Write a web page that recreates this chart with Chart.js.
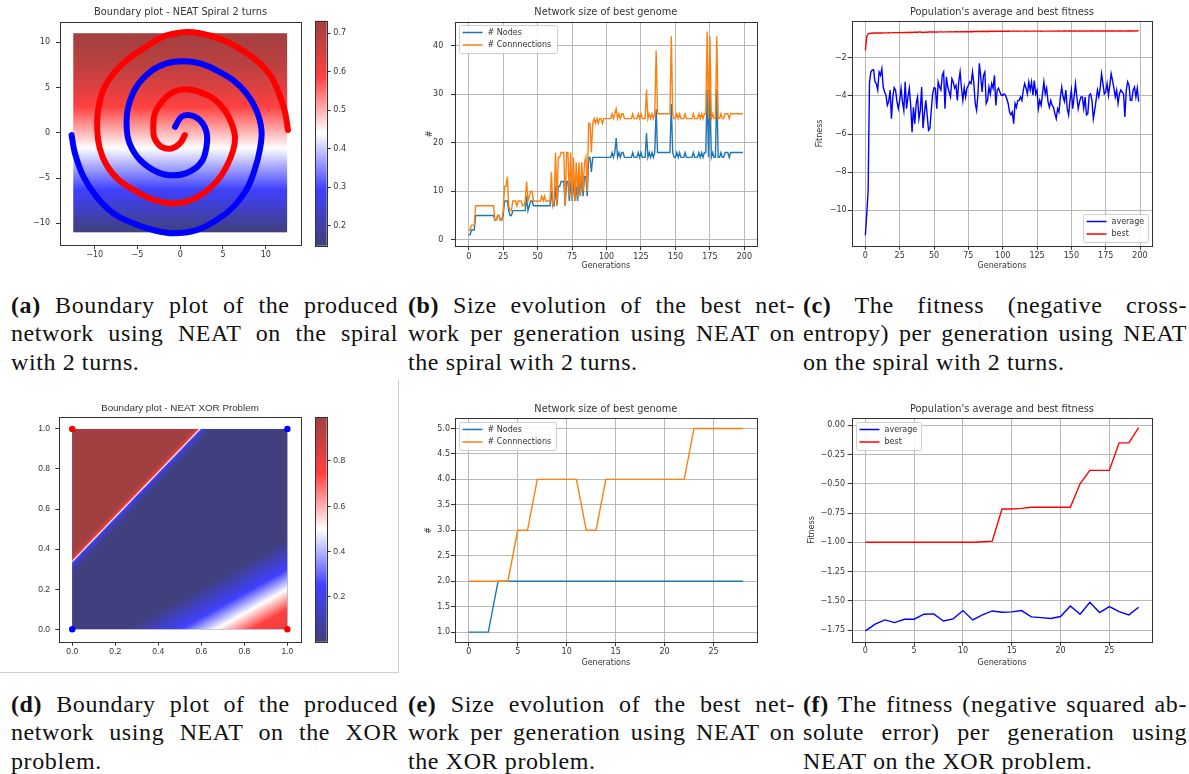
<!DOCTYPE html>
<html>
<head>
<meta charset="utf-8">
<script src="https://cdn.jsdelivr.net/npm/chart.js@4.4.1/dist/chart.umd.min.js"></script>
<style>
  body { margin: 0; background: #fff; width: 1189px; height: 774px; position: relative; overflow: hidden; }
  canvas { position: absolute; }
  .cap { position: absolute; font-family: "Liberation Serif", serif; font-size: 24px; letter-spacing: 0.6px; line-height: 28.5px; color: #111; white-space: nowrap; }
  .cap .j { text-align: justify; text-align-last: justify; }
  .edge { position: absolute; left: 0; top: 380px; width: 398px; height: 292px; border-right: 1px solid #cfcfcf; border-bottom: 1px solid #cfcfcf; }
</style>
</head>
<body>
<div class="edge"></div>
<canvas id="cA"></canvas><canvas id="cAbar"></canvas>
<canvas id="cB"></canvas><canvas id="cC"></canvas>
<canvas id="cD"></canvas><canvas id="cDbar"></canvas>
<canvas id="cE"></canvas><canvas id="cF"></canvas>

<div class="cap" style="left:11px;top:290.5px;width:387px">
  <div class="j"><b>(a)</b> Boundary plot of the produced</div>
  <div class="j">network using NEAT on the spiral</div>
  <div>with 2 turns.</div>
</div>
<div class="cap" style="left:408px;top:290.5px;width:387px">
  <div class="j"><b>(b)</b> Size evolution of the best net-</div>
  <div class="j">work per generation using NEAT on</div>
  <div>the spiral with 2 turns.</div>
</div>
<div class="cap" style="left:803px;top:290.5px;width:384px">
  <div class="j"><b>(c)</b> The fitness (negative cross-</div>
  <div class="j">entropy) per generation using NEAT</div>
  <div>on the spiral with 2 turns.</div>
</div>
<div class="cap" style="left:11px;top:689.5px;width:387px">
  <div class="j"><b>(d)</b> Boundary plot of the produced</div>
  <div class="j">network using NEAT on the XOR</div>
  <div>problem.</div>
</div>
<div class="cap" style="left:408px;top:689.5px;width:387px">
  <div class="j"><b>(e)</b> Size evolution of the best net-</div>
  <div class="j">work per generation using NEAT on</div>
  <div>the XOR problem.</div>
</div>
<div class="cap" style="left:803px;top:689.5px;width:384px">
  <div class="j"><b>(f)</b> The fitness (negative squared ab-</div>
  <div class="j">solute error) per generation using</div>
  <div>NEAT on the XOR problem.</div>
</div>

<script>
/* ---- data: spiral boundary plot (a) ---- */
const spiralRedX = [0.54, -0.04, -1.0, -2.2, -3.0, -3.15, -2.96, -2.0, -0.8, 0.74, 2.3, 3.85, 5.2, 6.0, 6.4, 6.2, 5.4, 4.24, 2.7, 0.74, -1.2, -3.15, -5.1, -7.2, -8.6, -9.4, -9.7, -9.6, -9.0, -7.8, -6.26, -4.3, -2.0, 0.35, 2.3, 4.6, 6.96, 8.9, 10.5, 11.4, 12.2, 12.6];
const spiralRedY = [-0.26, -1.18, -1.73, -1.55, -0.6, 0.48, 2.14, 3.6, 4.5, 4.8, 4.5, 3.8, 2.5, 1.03, -0.44, -1.9, -3.76, -5.4, -6.7, -7.6, -7.8, -7.4, -6.5, -5.2, -3.57, -1.73, 0.3, 2.5, 4.7, 6.56, 8.0, 9.3, 10.6, 11.1, 11.0, 10.4, 9.3, 8.0, 6.4, 4.7, 2.5, 0.3];
const spiralBlueX = [-0.6, 0.15, 1.1, 2.3, 3.07, 3.07, 2.5, 1.1, -0.8, -2.76, -4.7, -5.9, -6.26, -6.07, -5.1, -3.5, -1.6, 0.35, 2.3, 4.24, 6.2, 7.74, 8.9, 9.5, 9.3, 8.7, 7.74, 6.2, 4.24, 1.9, -0.8, -3.15, -5.5, -7.8, -9.77, -11.3, -12.3, -12.7];
const spiralBlueY = [0.66, 1.77, 1.95, 1.4, 0.1, -1.55, -3.2, -4.3, -4.7, -4.3, -3.0, -1.2, 0.66, 2.87, 5.1, 6.74, 7.66, 7.9, 7.66, 6.9, 5.8, 4.35, 2.5, 0.3, -1.9, -4.1, -6.3, -8.2, -9.65, -10.75, -11.1, -10.75, -10.0, -8.9, -7.07, -4.86, -2.28, -0.26];
const spiralGridX = [-12.5, 12.5];
const spiralGradY = [-11, -8.5, -6.3, -4, -1.7, 0.6, 2.9, 5, 7.5, 11];
const spiralGradP = [0.15, 0.23, 0.294, 0.365, 0.44, 0.515, 0.587, 0.64, 0.69, 0.73];
const cbA = [0.148, 0.733];
const cbATicks = [0.2, 0.3, 0.4, 0.5, 0.6, 0.7];

/* ---- data: XOR boundary plot (d) ---- */
const xorRedX = [0, 1], xorRedY = [1, 0];
const xorBlueX = [0, 1], xorBlueY = [0, 1];
const xorBaseP = 0.01;
const xorUpperSlope = 1.114;
const xorUpperU = [0.27, 0.315, 0.33, 0.338, 0.346, 0.355, 0.38];
const xorUpperP = [0.01, 0.12, 0.249, 0.497, 0.745, 0.9, 0.99];
const xorLowerSlope = 0.6;
const xorLowerU = [-0.15, -0.3, -0.4, -0.5, -0.62];
const xorLowerP = [0.01, 0.249, 0.497, 0.745, 0.82];
const cbD = [0.001, 0.993];
const cbDTicks = [0.2, 0.4, 0.6, 0.8];
const unitTicks = [0, 0.2, 0.4, 0.6, 0.8, 1.0];

/* ---- data: spiral NEAT run, 200 generations (b, c) ---- */
const spiralGens = Array.from({ length: 200 }, (_, i) => i);
const spiralNodes = [
  1,1,2,2,2,5,5,5,5,5,  5,5,5,5,5,5,5,5,5,4,  4,5,5,4,4,5,8,8,8,6,  5,5,6,6,6,6,6,6,6,6,
  6,6,9,6,7,8,8,7,7,7,  7,7,7,7,7,7,7,7,7,7,  10,7,7,11,7,11,11,12,12,12,  7,12,12,8,12,8,12,8,11,8,
  12,9,13,9,13,13,9,17,17,14,  17,17,17,17,17,17,17,17,17,17,  17,17,17,17,18,17,18,21,17,18,  17,18,18,17,17,17,17,17,17,18,
  17,17,17,18,17,18,17,17,17,22,  17,18,17,18,17,18,27,18,18,18,  18,18,18,18,18,18,18,28,18,17,  17,18,17,18,17,17,17,18,17,17,
  17,17,17,18,17,17,17,18,17,18,  17,18,18,31,17,31,17,18,17,17,  31,17,17,18,17,17,18,18,18,17,  18,18,18,18,18,18,18,18,18,18
];
const spiralConns = [
  2,2,3,3,3,7,7,7,7,7,  7,7,7,7,7,7,7,7,7,4,  4,5,5,4,4,6,11,11,13,7,  6,6,8,8,8,7,8,8,8,7,
  7,8,12,8,9,10,10,8,8,8,  8,8,8,9,8,9,8,8,8,8,  14,7,8,18,7,17,17,18,18,18,  7,18,18,9,18,8,17,8,16,9,
  16,9,16,10,16,17,10,24,24,18,  24,25,24,25,24,25,25,24,25,25,  25,25,25,25,26,25,26,27,25,26,  25,26,26,25,25,25,25,25,25,26,
  25,25,25,26,25,26,25,25,25,31,  25,26,25,26,25,26,39,26,26,26,  26,26,26,26,26,26,26,42,26,25,  25,26,25,26,25,25,25,26,25,25,
  25,25,25,26,25,25,25,26,25,26,  25,26,26,43,25,42,25,26,25,25,  42,25,25,26,25,25,26,26,26,25,  26,26,26,26,26,26,26,26,26,26
];
const spiralAvgFit = [
  -11.3,-10.2,-9.0,-3.3,-2.75,-2.65,-2.63,-3.27,-3.36,-3.7,  -2.75,-2.93,-2.58,-3.54,-3.8,-3.97,-4.5,-4.3,-3.7,-5.2,
  -4.06,-3.57,-3.7,-4.3,-4.67,-4.24,-3.6,-4.3,-4.76,-3.27,  -4.67,-4.06,-3.6,-4.5,-5.9,-4.6,-5.46,-4.4,-4.06,-5.2,
  -4.76,-3.54,-5.7,-4.93,-4.24,-5.0,-5.8,-5.7,-4.76,-3.9,  -3.57,-3.6,-4.67,-3.27,-3.54,-3.7,-2.93,-2.75,-4.67,-3.0,
  -3.54,-3.8,-4.06,-3.1,-3.27,-3.6,-3.45,-4.24,-3.27,-2.75,  -3.6,-4.24,-3.57,-4.06,-3.6,-3.45,-3.27,-3.36,-2.75,-3.36,
  -4.4,-4.76,-3.9,-2.3,-3.0,-3.8,-2.93,-2.75,-4.4,-4.24,  -3.54,-3.9,-3.36,-3.6,-2.93,-4.5,-3.7,-3.6,-3.8,-3.97,
  -3.97,-3.9,-3.97,-4.15,-4.4,-4.85,-5.0,-4.85,-5.46,-4.4,  -4.6,-4.24,-4.24,-4.06,-4.24,-3.7,-3.36,-3.6,-3.9,-3.27,
  -3.7,-3.27,-3.97,-3.2,-3.9,-3.7,-4.67,-4.24,-4.5,-3.9,  -3.27,-3.9,-3.6,-4.3,-4.6,-4.24,-4.5,-4.6,-4.93,-5.2,
  -4.67,-4.85,-4.06,-3.54,-4.06,-4.3,-3.7,-4.67,-5.0,-4.24,  -3.7,-4.67,-4.06,-3.36,-4.06,-4.67,-4.3,-4.06,-4.06,-4.67,
  -4.06,-5.0,-4.93,-3.97,-3.9,-4.24,-5.2,-4.76,-4.24,-3.7,  -4.06,-3.6,-2.84,-3.36,-3.9,-3.8,-3.36,-3.97,-3.45,-2.84,
  -3.2,-3.6,-4.06,-3.7,-4.4,-3.9,-3.7,-3.8,-3.9,-5.1,  -3.7,-3.27,-3.45,-4.24,-4.24,-3.7,-3.54,-4.06,-3.6,-4.3
];
const spiralBestFit = [
  -1.62,-0.92,-0.75,-0.73,-0.72,-0.72,-0.71,-0.71,-0.71,-0.71,  -0.71,-0.70,-0.71,-0.70,-0.70,-0.70,-0.70,-0.69,-0.70,-0.70,
  -0.69,-0.69,-0.69,-0.69,-0.69,-0.69,-0.68,-0.69,-0.68,-0.68,  -0.68,-0.68,-0.68,-0.67,-0.68,-0.67,-0.67,-0.67,-0.67,-0.66,
  -0.66,-0.67,-0.68,-0.67,-0.67,-0.67,-0.66,-0.66,-0.66,-0.66,  -0.66,-0.66,-0.65,-0.66,-0.65,-0.65,-0.65,-0.66,-0.65,-0.65,
  -0.65,-0.65,-0.64,-0.65,-0.65,-0.64,-0.64,-0.64,-0.65,-0.64,  -0.64,-0.64,-0.64,-0.64,-0.63,-0.64,-0.64,-0.63,-0.64,-0.63,
  -0.63,-0.63,-0.63,-0.63,-0.63,-0.63,-0.62,-0.63,-0.63,-0.62,  -0.63,-0.62,-0.62,-0.62,-0.63,-0.62,-0.62,-0.62,-0.62,-0.62,
  -0.62,-0.62,-0.62,-0.61,-0.62,-0.62,-0.61,-0.61,-0.62,-0.61,  -0.61,-0.62,-0.61,-0.61,-0.61,-0.61,-0.61,-0.62,-0.61,-0.61,
  -0.61,-0.61,-0.61,-0.61,-0.61,-0.61,-0.61,-0.61,-0.62,-0.61,  -0.61,-0.61,-0.61,-0.61,-0.61,-0.61,-0.61,-0.60,-0.61,-0.61,
  -0.60,-0.60,-0.61,-0.61,-0.60,-0.60,-0.60,-0.61,-0.60,-0.60,  -0.60,-0.61,-0.60,-0.60,-0.61,-0.60,-0.60,-0.60,-0.60,-0.61,
  -0.60,-0.60,-0.61,-0.60,-0.60,-0.60,-0.60,-0.60,-0.61,-0.60,  -0.60,-0.60,-0.60,-0.60,-0.60,-0.61,-0.60,-0.60,-0.60,-0.60,
  -0.60,-0.60,-0.61,-0.60,-0.60,-0.60,-0.60,-0.60,-0.60,-0.61,  -0.60,-0.60,-0.60,-0.59,-0.60,-0.60,-0.60,-0.60,-0.59,-0.59
];
const genTicks200 = [0, 25, 50, 75, 100, 125, 150, 175, 200];
const sizeTicks200 = [0, 10, 20, 30, 40];
const fitTicks200 = [-10, -8, -6, -4, -2];

/* ---- data: XOR NEAT run, 29 generations (e, f) ---- */
const xorGens = Array.from({ length: 29 }, (_, i) => i);
const xorNodes = [1,1,1,2,2,2,2,2,2,2,2,2,2,2,2,2,2,2,2,2,2,2,2,2,2,2,2,2,2];
const xorConns = [2,2,2,2,2,3,3,4,4,4,4,4,3,3,4,4,4,4,4,4,4,4,4,5,5,5,5,5,5];
const xorAvgFit = [-1.758,-1.70,-1.664,-1.687,-1.658,-1.658,-1.615,-1.612,-1.673,-1.655,-1.584,-1.664,-1.621,-1.587,-1.598,-1.595,-1.584,-1.638,-1.644,-1.652,-1.635,-1.544,-1.615,-1.513,-1.601,-1.55,-1.593,-1.621,-1.556];
const xorBestFit = [-1.0,-1.0,-1.0,-1.0,-1.0,-1.0,-1.0,-1.0,-1.0,-1.0,-1.0,-1.0,-0.995,-0.99,-0.715,-0.715,-0.71,-0.70,-0.70,-0.70,-0.70,-0.70,-0.50,-0.385,-0.385,-0.385,-0.15,-0.15,-0.02];
const genTicks29 = [0, 5, 10, 15, 20, 25];
const sizeTicks29 = [1.0, 1.5, 2.0, 2.5, 3.0, 3.5, 4.0, 4.5, 5.0];
const fitTicks29 = [0, -0.25, -0.5, -0.75, -1.0, -1.25, -1.5, -1.75];

/* ---- style ---- */
const INK = '#333';
const SANS = '"DejaVu Sans", sans-serif';
const ARIAL = '"Liberation Sans", Arial, sans-serif';
const TICK_FS = 8, TITLE_FS = 9.8;

/* seismic colormap (matplotlib), pre-blended at alpha .75 over white */
const seismicPos = [0, 0.25, 0.5, 0.75, 1];
const seismicRGB = [[0,0,76],[0,0,255],[255,255,255],[255,0,0],[128,0,0]];
const cmap = t => {
  t = Math.min(1, Math.max(0, t));
  let i = 0;
  while (i < 3 && t > seismicPos[i + 1]) i++;
  const f = (t - seismicPos[i]) / (seismicPos[i + 1] - seismicPos[i]);
  const c = seismicRGB[i].map((v, k) => Math.round(0.75 * (v + (seismicRGB[i + 1][k] - v) * f) + 0.25 * 255));
  return `rgb(${c[0]},${c[1]},${c[2]})`;
};
const norm = (p, cb) => (p - cb[0]) / (cb[1] - cb[0]);

const fmt = (v, d) => (v < -1e-9 ? '\u2212' : '') + Math.abs(v).toFixed(d);

/* helpers */
const place = (id, [x, y, w, h]) => {
  const c = document.getElementById(id);
  c.width = w; c.height = h;
  Object.assign(c.style, { left: x + 'px', top: y + 'px', width: w + 'px', height: h + 'px' });
  return c;
};

const axis = o => ({
  type: 'linear', position: o.pos, min: o.min, max: o.max,
  afterBuildTicks: s => { s.ticks = o.ticks.map(value => ({ value })); },
  afterFit: s => { if (s.isHorizontal()) s.height = o.size; else s.width = o.size; },
  grid: { drawOnChartArea: !!o.grid, color: '#b8b8b8', lineWidth: 1, drawTicks: true, tickLength: 4, tickColor: INK, tickWidth: 1 },
  border: { display: false },
  ticks: { color: INK, font: { family: o.font, size: o.fs || TICK_FS }, padding: o.pad, autoSkip: false, maxRotation: 0, callback: v => fmt(v, o.dec) },
  title: o.title
    ? { display: true, text: o.title, color: INK, font: { family: o.font, size: o.fs || TICK_FS, lineHeight: 1.2 }, padding: o.titlePad }
    : { display: false }
});

// title block so the title sits at titleY and the frame starts at fr.t
const titleOpts = (text, cv, fr, titleY, font) => {
  const lh = TITLE_FS * 1.2;
  const top = titleY - cv[1] - lh / 2;
  return {
    display: true, text, fullSize: false, color: INK,
    font: { family: font, size: TITLE_FS, weight: 'normal', lineHeight: 1.2 },
    padding: { top, bottom: fr.t - cv[1] - lh - top }
  };
};

/* plugins */
const framePlugin = {
  id: 'frame',
  afterDatasetsDraw(chart) {
    const { ctx, chartArea: a } = chart;
    ctx.save();
    ctx.strokeStyle = INK; ctx.lineWidth = 1;
    const l = Math.round(a.left) + 0.5, t = Math.round(a.top) + 0.5;
    ctx.strokeRect(l, t, Math.round(a.right) - Math.round(a.left), Math.round(a.bottom) - Math.round(a.top));
    ctx.restore();
  }
};

const boxLegend = {
  id: 'boxLegend',
  afterDraw(chart, args, o) {
    if (!o || !o.w) return;
    const { ctx, chartArea: a } = chart;
    const x = Math.round(o.corner === 'lr' ? a.right - 4 - o.w : a.left + 4) + 0.5;
    const y = Math.round(o.corner === 'lr' ? a.bottom - 4 - o.h : a.top + 3.5) + 0.5;
    ctx.save();
    ctx.fillStyle = 'rgba(255,255,255,0.85)'; ctx.strokeStyle = '#cfcfcf'; ctx.lineWidth = 1;
    ctx.beginPath(); ctx.roundRect(x, y, o.w, o.h, 2); ctx.fill(); ctx.stroke();
    ctx.font = `${TICK_FS}px ${SANS}`; ctx.textBaseline = 'middle';
    chart.data.datasets.forEach((ds, i) => {
      const ry = y + 7 + i * 12.5;
      ctx.strokeStyle = ds.borderColor; ctx.lineWidth = 1.5;
      ctx.beginPath(); ctx.moveTo(x + 3, ry); ctx.lineTo(x + 23, ry); ctx.stroke();
      ctx.fillStyle = INK;
      ctx.fillText(ds.label, x + 28, ry);
    });
    ctx.restore();
  }
};
Chart.register(framePlugin, boxLegend);

// vertical gradient behind the spiral
const spiralBg = {
  id: 'spiralBg',
  beforeDatasetsDraw(chart) {
    const { ctx, scales: { x, y } } = chart;
    const y0 = y.getPixelForValue(spiralGradY[0]);
    const y1 = y.getPixelForValue(spiralGradY[spiralGradY.length - 1]);
    const span = spiralGradY[spiralGradY.length - 1] - spiralGradY[0];
    const g = ctx.createLinearGradient(0, y0, 0, y1);
    spiralGradY.forEach((v, i) => g.addColorStop((v - spiralGradY[0]) / span, cmap(norm(spiralGradP[i], cbA))));
    const xl = x.getPixelForValue(spiralGridX[0]), xr = x.getPixelForValue(spiralGridX[1]);
    ctx.save();
    ctx.fillStyle = g;
    ctx.fillRect(xl, y1, xr - xl, y0 - y1);
    ctx.restore();
  }
};

// XOR probability field: base + two bands along lines y = m*x + u
const xorBg = {
  id: 'xorBg',
  beforeDatasetsDraw(chart) {
    const { ctx, scales: { x, y } } = chart;
    const X = v => x.getPixelForValue(v), Y = v => y.getPixelForValue(v);
    const sx = X(1) - X(0), sy = Y(0) - Y(1);
    const band = (m, us, ps, poly) => {
      let nx = sy * m, ny = sx;
      const L = Math.hypot(nx, ny); nx /= L; ny /= L;
      const u0 = us[0], u1 = us[us.length - 1];
      const p0x = X(0), p0y = Y(u0);
      const t = (X(0) - p0x) * nx + (Y(u1) - p0y) * ny;
      const g = ctx.createLinearGradient(p0x, p0y, p0x + nx * t, p0y + ny * t);
      us.forEach((u, i) => g.addColorStop((u - u0) / (u1 - u0), cmap(norm(ps[i], cbD))));
      ctx.save();
      ctx.beginPath();
      poly.forEach(([px, py], i) => i ? ctx.lineTo(X(px), Y(py)) : ctx.moveTo(X(px), Y(py)));
      ctx.closePath(); ctx.clip();
      ctx.fillStyle = g;
      ctx.fillRect(X(0), Y(1), X(1) - X(0), Y(0) - Y(1));
      ctx.restore();
    };
    ctx.save();
    ctx.fillStyle = cmap(norm(xorBaseP, cbD));
    ctx.fillRect(X(0), Y(1), X(1) - X(0), Y(0) - Y(1));
    ctx.restore();
    const cut = 0.2, xCut = (1 - cut) / xorUpperSlope;
    band(xorLowerSlope, xorLowerU, xorLowerP, [[0, 0], [0, cut], [xCut, 1], [1, 1], [1, 0]]);
    band(xorUpperSlope, xorUpperU, xorUpperP, [[0, cut], [0, 1], [xCut, 1]]);
  }
};

/* charts */
const BASE = { responsive: false, animation: false, events: [] };

const boundaryChart = (id, cv, fr, titleY, o) => new Chart(place(id, cv), {
  type: 'scatter',
  data: { datasets: o.datasets },
  options: {
    ...BASE,
    layout: { padding: { left: 0, right: cv[0] + cv[2] - fr.r, top: 0, bottom: 0 } },
    plugins: { legend: { display: false }, tooltip: { enabled: false }, title: titleOpts(o.title, cv, fr, titleY, o.font) },
    scales: {
      x: axis({ pos: 'bottom', min: o.x[0], max: o.x[1], ticks: o.ticks, dec: o.dec, pad: o.xPad, size: cv[1] + cv[3] - fr.b, font: o.font, fs: o.fs }),
      y: axis({ pos: 'left', min: o.y[0], max: o.y[1], ticks: o.ticks, dec: o.dec, pad: o.yPad, size: fr.l - cv[0], font: o.font, fs: o.fs })
    }
  },
  plugins: [o.bg]
});

const colorbar = (id, cv, fr, cb, ticks, font, fs) => new Chart(place(id, cv), {
  type: 'bar',
  data: {
    labels: ['p'],
    datasets: [{
      data: [cb], borderWidth: 0, categoryPercentage: 1, barPercentage: 1,
      backgroundColor: c => {
        const ch = c.chart;
        if (!ch.chartArea) return 'transparent';
        const y = ch.scales.y;
        const g = ch.ctx.createLinearGradient(0, y.getPixelForValue(cb[0]), 0, y.getPixelForValue(cb[1]));
        seismicPos.forEach(p => g.addColorStop(p, cmap(p)));
        return g;
      }
    }]
  },
  options: {
    ...BASE,
    layout: { padding: { left: fr.l - cv[0], right: 0, top: fr.t - cv[1], bottom: cv[1] + cv[3] - fr.b } },
    plugins: { legend: { display: false }, tooltip: { enabled: false } },
    scales: {
      x: { display: false },
      y: axis({ pos: 'right', min: cb[0], max: cb[1], ticks, dec: 1, pad: 2.6, size: cv[0] + cv[2] - fr.r, font, fs })
    }
  }
});

const lineChart = (id, cv, fr, titleY, o) => new Chart(place(id, cv), {
  type: 'line',
  data: {
    datasets: o.series.map(s => ({
      label: s.label,
      data: o.xs.map((x, i) => ({ x, y: s.data[i] })),
      borderColor: s.color, backgroundColor: s.color,
      borderWidth: 1.4, pointRadius: 0, tension: 0, fill: false, order: s.order
    }))
  },
  options: {
    ...BASE,
    layout: { padding: { left: 0, right: cv[0] + cv[2] - fr.r, top: 0, bottom: 0 } },
    plugins: {
      legend: { display: false }, tooltip: { enabled: false },
      title: titleOpts(o.title, cv, fr, titleY, SANS),
      boxLegend: o.legend
    },
    scales: {
      x: axis({
        pos: 'bottom', min: o.x[0], max: o.x[1], ticks: o.xTicks, dec: 0, pad: o.xPad, grid: true,
        size: cv[1] + cv[3] - fr.b, font: SANS, title: 'Generations',
        titlePad: { top: 0, bottom: cv[1] + cv[3] - o.xLabelY - TICK_FS * 0.6 }
      }),
      y: axis({
        pos: 'left', min: o.y[0], max: o.y[1], ticks: o.yTicks, dec: o.dec, pad: o.yPad, grid: true,
        size: fr.l - cv[0], font: SANS, title: o.yTitle,
        titlePad: { top: o.yLabelX - cv[0] - TICK_FS * 0.6, bottom: 0 }
      })
    }
  }
});

/* (a) spiral boundary */
boundaryChart('cA', [0, 0, 305, 270], { l: 60, t: 22, r: 301, b: 245 }, 12.7, {
  title: 'Boundary plot - NEAT Spiral 2 turns', font: SANS, fs: TICK_FS,
  x: [-14.05, 14.12], y: [-12.4, 12.24], ticks: [-10, -5, 0, 5, 10], dec: 0, xPad: 1.2, yPad: 6,
  bg: spiralBg,
  datasets: [
    { data: spiralRedX.map((x, i) => ({ x, y: spiralRedY[i] })), showLine: true, borderColor: '#ff0000', backgroundColor: '#ff0000',
      borderWidth: 6, pointRadius: 0, tension: 0.4, borderCapStyle: 'round', borderJoinStyle: 'round' },
    { data: spiralBlueX.map((x, i) => ({ x, y: spiralBlueY[i] })), showLine: true, borderColor: '#0000ff', backgroundColor: '#0000ff',
      borderWidth: 6, pointRadius: 0, tension: 0.4, borderCapStyle: 'round', borderJoinStyle: 'round' }
  ]
});
colorbar('cAbar', [305, 0, 55, 270], { l: 315, t: 20.7, r: 326.7, b: 245.7 }, cbA, cbATicks, SANS, TICK_FS);

/* (b) network size, spiral */
lineChart('cB', [400, 0, 370, 270], { l: 455, t: 21.7, r: 756.7, b: 246 }, 12.7, {
  title: 'Network size of best genome', xs: spiralGens,
  x: [-9.95, 208.95], y: [-1.3, 45.0], xTicks: genTicks200, yTicks: sizeTicks200, dec: 0,
  xPad: 1.9, yPad: 7.7, yTitle: '#', yLabelX: 430, xLabelY: 265.7,
  legend: { corner: 'ul', w: 98, h: 28 },
  series: [
    { label: '# Nodes', data: spiralNodes, color: '#1f77b4', order: 1 },
    { label: '# Connnections', data: spiralConns, color: '#ff7f0e', order: 0 }
  ]
});

/* (c) fitness, spiral */
lineChart('cC', [800, 0, 370, 270], { l: 851.7, t: 21, r: 1152.3, b: 245.7 }, 12.7, {
  title: "Population's average and best fitness", xs: spiralGens,
  x: [-9.95, 208.95], y: [-11.85, -0.08], xTicks: genTicks200, yTicks: fitTicks200, dec: 0,
  xPad: 1.2, yPad: 1, yTitle: 'Fitness', yLabelX: 820, xLabelY: 265.7,
  legend: { corner: 'lr', w: 65, h: 28 },
  series: [
    { label: 'average', data: spiralAvgFit, color: '#0000ff', order: 1 },
    { label: 'best', data: spiralBestFit, color: '#ff0000', order: 0 }
  ]
});

/* (d) XOR boundary */
boundaryChart('cD', [0, 398, 305, 272], { l: 59.3, t: 417.3, r: 300.7, b: 641.7 }, 408, {
  title: 'Boundary plot - NEAT XOR Problem', font: ARIAL, fs: 8.5,
  x: [-0.06, 1.062], y: [-0.062, 1.058], ticks: unitTicks, dec: 1, xPad: 0.4, yPad: 5.3,
  bg: xorBg,
  datasets: [
    { data: xorRedX.map((x, i) => ({ x, y: xorRedY[i] })), pointRadius: 3.2, borderWidth: 0, backgroundColor: '#ff0000', clip: false },
    { data: xorBlueX.map((x, i) => ({ x, y: xorBlueY[i] })), pointRadius: 3.2, borderWidth: 0, backgroundColor: '#0000ff', clip: false }
  ]
});
colorbar('cDbar', [305, 398, 55, 272], { l: 315, t: 417.3, r: 326.7, b: 641.7 }, cbD, cbDTicks, ARIAL, 8.5);

/* (e) network size, XOR */
lineChart('cE', [400, 398, 370, 272], { l: 455, t: 418.3, r: 756.7, b: 642.3 }, 409, {
  title: 'Network size of best genome', xs: xorGens,
  x: [-1.4, 29.4], y: [0.8, 5.2], xTicks: genTicks29, yTicks: sizeTicks29, dec: 1,
  xPad: 0.6, yPad: 1, yTitle: '#', yLabelX: 429, xLabelY: 662.7,
  legend: { corner: 'ul', w: 97, h: 28 },
  series: [
    { label: '# Nodes', data: xorNodes, color: '#1f77b4', order: 1 },
    { label: '# Connnections', data: xorConns, color: '#ff7f0e', order: 0 }
  ]
});

/* (f) fitness, XOR */
lineChart('cF', [800, 398, 370, 272], { l: 851.7, t: 418.3, r: 1152.3, b: 641.7 }, 409, {
  title: "Population's average and best fitness", xs: xorGens,
  x: [-1.4, 29.4], y: [-1.85, 0.06], xTicks: genTicks29, yTicks: fitTicks29, dec: 2,
  xPad: 0.5, yPad: 2.7, yTitle: 'Fitness', yLabelX: 812.3, xLabelY: 662.7,
  legend: { corner: 'ul', w: 65, h: 28 },
  series: [
    { label: 'average', data: xorAvgFit, color: '#0000ff', order: 1 },
    { label: 'best', data: xorBestFit, color: '#ff0000', order: 0 }
  ]
});
</script>
</body>
</html>
